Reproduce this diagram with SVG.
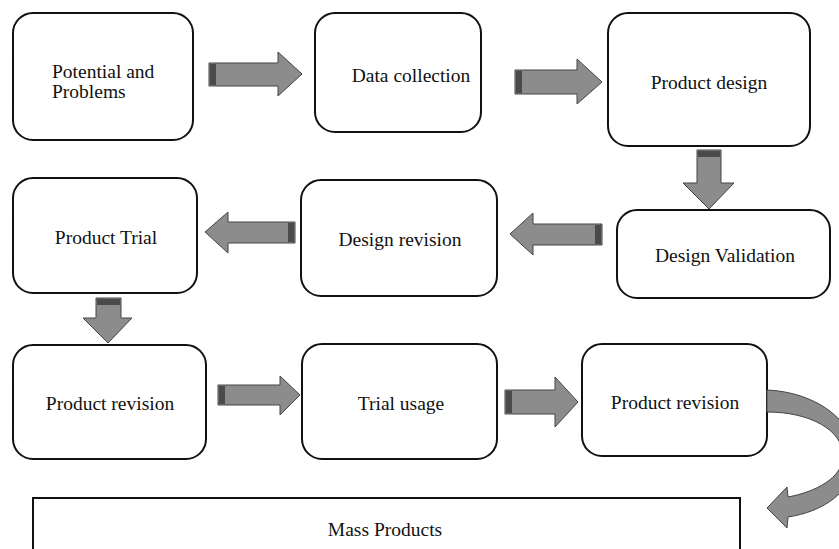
<svg xmlns="http://www.w3.org/2000/svg" width="839" height="549" viewBox="0 0 839 549">
<style>
.box{fill:#fff;stroke:#111;stroke-width:2}
.t{font-family:"Liberation Serif","Times New Roman",serif;font-size:19.5px;fill:#111}
.c{text-anchor:middle}
.arr{fill:#8c8c8c;stroke:#444;stroke-width:1}
.tail{fill:#4a4a4a;stroke:none}
</style>
<rect width="839" height="549" fill="#fff"/>
<g id="n1"><rect class="box" x="13" y="13" width="180" height="127" rx="20"/><text class="t" x="52" y="78">Potential and</text><text class="t" x="52" y="98">Problems</text></g>
<g id="n2"><rect class="box" x="315" y="13" width="166" height="119" rx="20"/><text class="t c" x="411" y="82">Data collection</text></g>
<g id="n3"><rect class="box" x="608" y="13" width="202" height="133" rx="20"/><text class="t c" x="709" y="89">Product design</text></g>
<g id="n4"><rect class="box" x="617" y="210" width="213" height="88" rx="20"/><text class="t c" x="725" y="262">Design Validation</text></g>
<g id="n5"><rect class="box" x="301" y="180" width="196" height="116" rx="20"/><text class="t c" x="400" y="246">Design revision</text></g>
<g id="n6"><rect class="box" x="13" y="178" width="184" height="115" rx="20"/><text class="t c" x="106" y="244">Product Trial</text></g>
<g id="n7"><rect class="box" x="13" y="345" width="193" height="114" rx="20"/><text class="t c" x="110" y="410">Product revision</text></g>
<g id="n8"><rect class="box" x="302" y="344" width="195" height="115" rx="20"/><text class="t c" x="401" y="410">Trial usage</text></g>
<g id="n9"><rect class="box" x="582" y="344" width="185" height="112" rx="20"/><text class="t c" x="675" y="409">Product revision</text></g>
<g id="n10"><rect class="box" x="33" y="498" width="707" height="70"/><text class="t c" x="385" y="536">Mass Products</text></g>
<g id="connectors">
<path class="arr" d="M209,63 H278 V52 L302,74 L278,96 V86 H209 Z"/><rect class="tail" x="210" y="64" width="6" height="21"/>
<path class="arr" d="M515,70 H577 V59 L602,82 L577,104 V94 H515 Z"/><rect class="tail" x="516" y="71" width="6" height="22"/>
<path class="arr" d="M697,150 V183 H683 L709,209 L734,183 H721 V150 Z"/><rect class="tail" x="698" y="151" width="22" height="6"/>
<path class="arr" d="M602,224 H533 V213 L510,234 L533,255 V245 H602 Z"/><rect class="tail" x="595" y="225" width="6" height="19"/>
<path class="arr" d="M295,222 H228 V212 L205,232 L228,253 V243 H295 Z"/><rect class="tail" x="288" y="223" width="6" height="19"/>
<path class="arr" d="M96,298 V318 H83 L108,343 L132,318 H121 V298 Z"/><rect class="tail" x="97" y="299" width="23" height="6"/>
<path class="arr" d="M218,385 H280 V376 L300,395 L280,415 V405 H218 Z"/><rect class="tail" x="219" y="386" width="6" height="18"/>
<path class="arr" d="M505,390 H555 V377 L578,402 L555,427 V414 H505 Z"/><rect class="tail" x="506" y="391" width="6" height="22"/>
<path class="arr" d="M767,390 C815,392 855,420 855,457 C855,492 822,512 788,517 L787,528 L767,508 L787,487 L788,497 C815,492 843,478 843,456 C843,430 810,412 767,412 Z"/>
</g>
</svg>
